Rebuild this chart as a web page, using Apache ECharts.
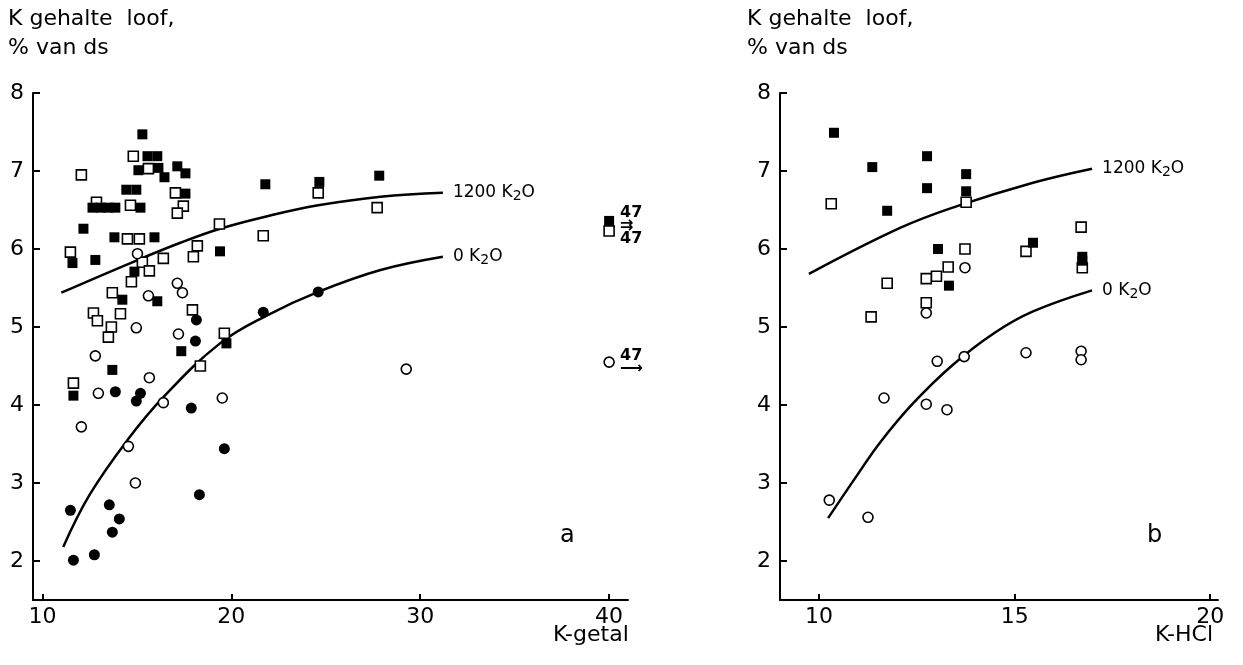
<!DOCTYPE html>
<html><head><meta charset="utf-8">
<script src="https://cdn.jsdelivr.net/npm/echarts@6/dist/echarts.min.js"></script>
<style>html,body{margin:0;padding:0;background:#fff}#c{width:1243px;height:665px}</style>
</head><body><div id="c"></div>
<script>
// ---- Panel a: K-getal ----
const aFilledSquares = [[15.29,7.47],[15.56,7.19],[16.08,7.19],[17.14,7.06],[17.57,6.97],[15.08,7.01],[16.14,7.04],[16.46,6.92],[14.44,6.76],[14.97,6.76],[17.57,6.71],[12.65,6.53],[13.07,6.53],[13.49,6.53],[13.86,6.53],[15.19,6.53],[12.17,6.26],[13.81,6.15],[15.93,6.15],[11.59,5.82],[12.80,5.86],[14.87,5.71],[14.23,5.35],[16.08,5.33],[17.35,4.69],[13.70,4.45],[11.64,4.12],[19.74,4.79],[19.40,5.97],[21.80,6.83],[24.66,6.86],[27.83,6.94],[40,6.36]];
const aOpenSquares = [[14.81,7.19],[15.61,7.03],[12.06,6.95],[17.04,6.72],[17.46,6.55],[17.14,6.46],[12.86,6.60],[14.66,6.56],[14.50,6.13],[15.13,6.13],[11.48,5.96],[15.29,5.83],[15.66,5.72],[16.40,5.88],[17.99,5.90],[18.20,6.04],[19.37,6.32],[14.71,5.58],[13.70,5.44],[12.70,5.18],[12.91,5.08],[14.13,5.17],[13.65,5.00],[13.49,4.87],[17.94,5.22],[18.36,4.50],[19.63,4.92],[11.64,4.28],[21.69,6.17],[24.60,6.72],[27.72,6.53],[40,6.23]];
const aOpenCircles = [[15.03,5.94],[17.14,5.56],[17.41,5.44],[15.61,5.40],[14.97,4.99],[17.20,4.91],[12.80,4.63],[15.66,4.35],[12.96,4.15],[16.40,4.03],[12.06,3.72],[14.55,3.47],[19.52,4.09],[14.92,3.00],[29.26,4.46],[40,4.55]];
const aFilledCircles = [[18.15,5.09],[18.10,4.82],[13.86,4.17],[15.19,4.15],[14.97,4.05],[17.88,3.96],[19.63,3.44],[18.31,2.85],[11.48,2.65],[13.54,2.72],[14.07,2.54],[13.70,2.37],[11.64,2.01],[12.75,2.08],[21.69,5.19],[24.60,5.45]];
const aCurve1200 = [[11.0,5.44],[14.66,5.82],[17.3,6.08],[19.4,6.26],[21.9,6.42],[24.6,6.56],[27.9,6.67],[31.2,6.72]];
const aCurve0 = [[11.1,2.18],[12.5,2.85],[14.5,3.55],[16.4,4.10],[19.4,4.79],[21.9,5.15],[24.6,5.45],[27.9,5.73],[31.2,5.90]];
const aOffscale = [[40,6.30,'47\n⇉\n47'],[40,4.55,'47\n⟶']];
// ---- Panel b: K-HCl ----
const bFilledSquares = [[10.38,7.49],[11.36,7.05],[12.76,7.19],[12.76,6.78],[11.74,6.49],[13.76,6.96],[13.76,6.74],[13.04,6.00],[13.32,5.53],[15.47,6.08],[16.73,5.90],[16.73,5.85],[16.70,8.17]];
const bOpenSquares = [[13.76,6.60],[10.31,6.58],[13.73,6.00],[13.30,5.77],[13.00,5.65],[12.74,5.62],[11.74,5.56],[12.74,5.31],[11.33,5.13],[15.29,5.97],[16.70,6.28],[16.73,5.76]];
const bOpenCircles = [[13.73,5.76],[12.74,5.18],[10.26,2.78],[11.25,2.56],[11.66,4.09],[12.74,4.01],[13.27,3.94],[13.02,4.56],[13.71,4.62],[15.29,4.67],[16.70,4.69],[16.70,4.58]];
const bCurve1200 = [[9.74,5.68],[12.07,6.27],[13.53,6.55],[15.47,6.85],[16.98,7.03]];
const bCurve0 = [[10.23,2.55],[11.0,3.12],[11.56,3.52],[12.40,4.02],[13.43,4.52],[14.5,4.93],[15.47,5.20],[16.98,5.47]];
// ---- Ticks / texts ----
const yTicks = [2,3,4,5,6,7,8];
const aXTicks = [10,20,30,40];
const bXTicks = [10,15,20];
const yTitle = 'K gehalte  loof,\n% van ds';
const aXName = 'K-getal', bXName = 'K-HCl';
const curveNames = ['1200 K{s|2}O', '0 K{s|2}O'];

const FONT = 'DejaVu Sans';
const chart = echarts.init(document.getElementById('c'), null, {renderer:'canvas'});

function xAx(idx, min, max, ticks){
  return {type:'value', gridIndex:idx, min:min, max:max,
    axisLine:{show:true, onZero:false, lineStyle:{color:'#000', width:2}},
    axisTick:{show:true, inside:true, length:6, customValues:ticks, lineStyle:{color:'#000', width:2}},
    axisLabel:{customValues:ticks, color:'#000', fontSize:22, fontFamily:FONT, margin:6},
    splitLine:{show:false}};
}
function yAx(idx){
  return {type:'value', gridIndex:idx, min:1.5, max:8,
    axisLine:{show:true, onZero:false, lineStyle:{color:'#000', width:2}},
    axisTick:{show:true, inside:true, length:7, customValues:yTicks, lineStyle:{color:'#000', width:2}},
    axisLabel:{customValues:yTicks, color:'#000', fontSize:22, fontFamily:FONT, margin:9, padding:[6,0,0,0]},
    splitLine:{show:false}};
}
const filledSq = {symbol:'rect', symbolSize:10, itemStyle:{color:'#000', opacity:1}};
const openSq = {symbol:'rect', symbolSize:10, itemStyle:{color:'#fff', borderColor:'#000', borderWidth:1.6, opacity:1}};
const filledCi = {symbol:'circle', symbolSize:11, itemStyle:{color:'#000', opacity:1}};
const openCi = {symbol:'circle', symbolSize:10, itemStyle:{color:'#fff', borderColor:'#000', borderWidth:1.6, opacity:1}};
function sc(idx, data, st){
  return Object.assign({type:'scatter', xAxisIndex:idx, yAxisIndex:idx, data:data, z:5, silent:true}, st);
}
function curve(idx, data, name){
  return {type:'line', xAxisIndex:idx, yAxisIndex:idx, data:data, smooth:0.4, showSymbol:false, symbol:'none', z:3, silent:true,
    lineStyle:{color:'#000', width:2.5},
    endLabel:{show:true, formatter:name, distance:10, color:'#000', fontFamily:FONT, fontSize:17,
      rich:{s:{fontSize:14, fontFamily:FONT, verticalAlign:'bottom', padding:[8,0,0,0]}}}};
}
const option = {
  backgroundColor:'#fff',
  animation:false,
  title:[
    {text:yTitle, left:3, top:0, textStyle:{fontFamily:FONT, fontSize:22, fontWeight:'normal', color:'#000', lineHeight:29}},
    {text:yTitle, left:742, top:0, textStyle:{fontFamily:FONT, fontSize:22, fontWeight:'normal', color:'#000', lineHeight:29}}
  ],
  grid:[
    {left:33, top:93, width:595, height:507},
    {left:780, top:93, width:438, height:507}
  ],
  xAxis:[xAx(0, 9.5, 41, aXTicks), xAx(1, 9, 20.2, bXTicks)],
  yAxis:[yAx(0), yAx(1)],
  graphic:[
    {type:'text', left:553, top:624, style:{text:aXName, fontFamily:FONT, fontSize:22, fill:'#000'}},
    {type:'text', left:1155, top:624, style:{text:bXName, fontFamily:FONT, fontSize:22, fill:'#000'}},
    {type:'text', left:560, top:524, style:{text:'a', fontFamily:FONT, fontSize:24, fill:'#000'}},
    {type:'text', left:1147, top:524, style:{text:'b', fontFamily:FONT, fontSize:24, fill:'#000'}}
  ],
  series:[
    curve(0, aCurve1200, curveNames[0]),
    curve(0, aCurve0, curveNames[1]),
    curve(1, bCurve1200, curveNames[0]),
    curve(1, bCurve0, curveNames[1]),
    sc(0, aOpenSquares, openSq),
    sc(0, aFilledSquares, filledSq),
    sc(0, aOpenCircles, openCi),
    sc(0, aFilledCircles, filledCi),
    sc(1, bOpenSquares, openSq),
    sc(1, bFilledSquares, filledSq),
    sc(1, bOpenCircles, openCi),
    {type:'scatter', xAxisIndex:0, yAxisIndex:0, symbol:'circle', symbolSize:2, silent:true, z:6,
      itemStyle:{color:'rgba(0,0,0,0)'},
      data:aOffscale.map(d=>({value:[d[0],d[1]], label:{formatter:d[2]}})),
      label:{show:true, position:'right', distance:10, color:'#000', opacity:1, fontFamily:FONT, fontWeight:'bold', fontSize:16, lineHeight:13, align:'left'}}
  ]
};
chart.setOption(option);
</script>
</body></html>
